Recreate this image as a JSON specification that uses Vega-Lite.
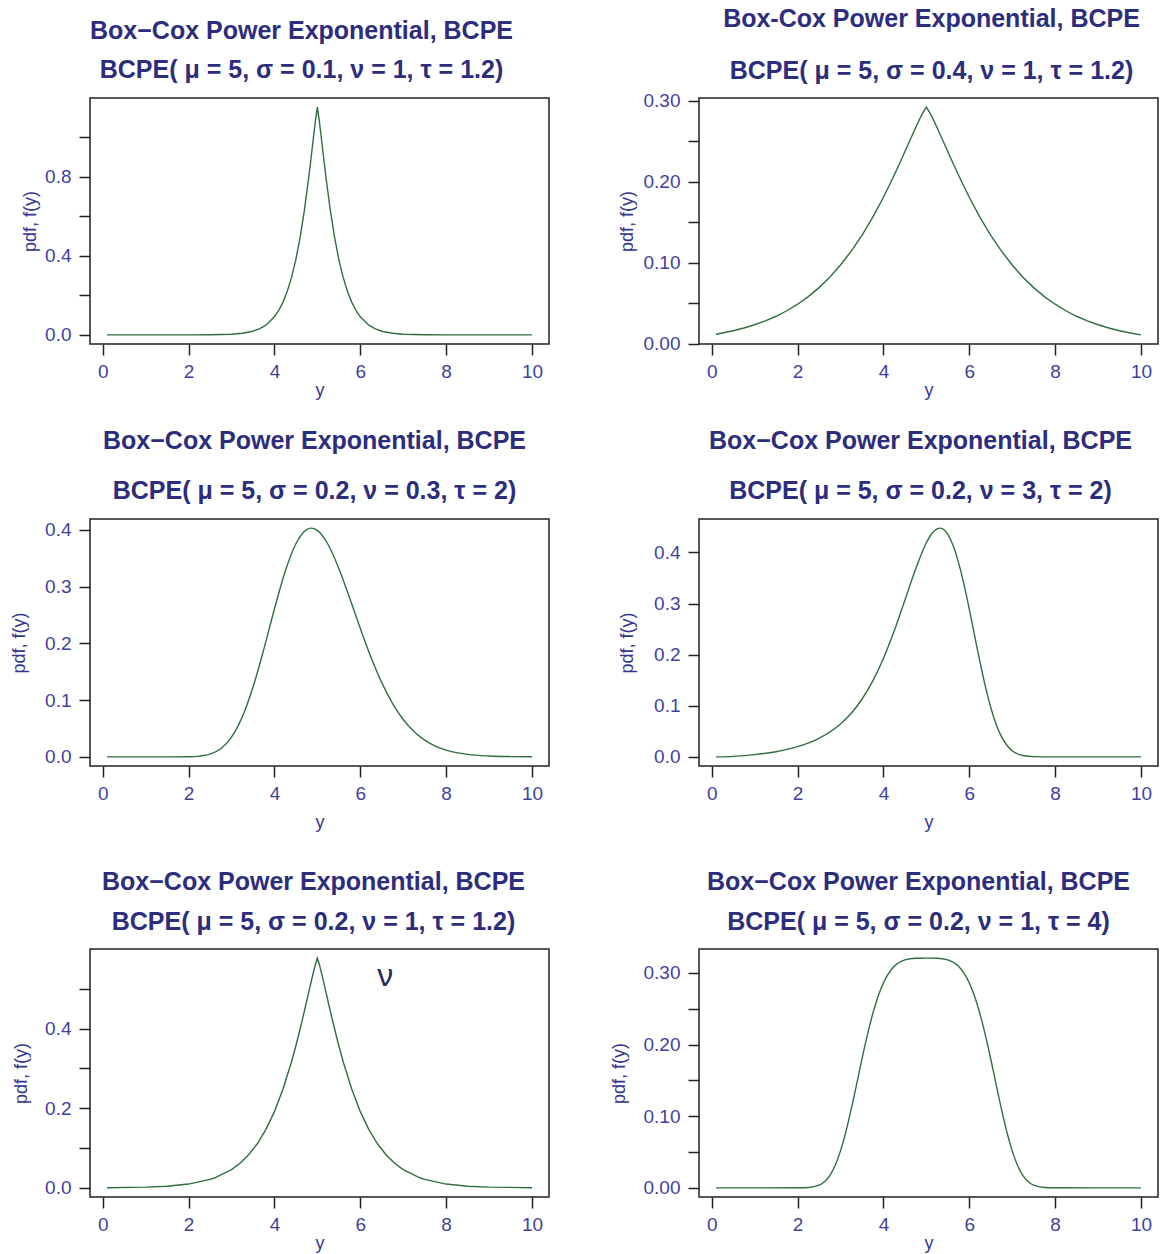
{
  "$schema": "https://vega.github.io/schema/vega-lite/v6.json",
  "background": "white",
  "autosize": {"type": "pad"},
  "padding": {"left": 9, "top": 6, "right": 0, "bottom": 0},
  "bounds": "flush",
  "spacing": 421,
  "datasets": {
    "p1": [{"x":0.1,"pdf":0},{"x":1,"pdf":0},{"x":2,"pdf":0.0001},{"x":2.5,"pdf":0.0006},{"x":3,"pdf":0.0034},{"x":3.25,"pdf":0.0081},{"x":3.5,"pdf":0.0187},{"x":3.65,"pdf":0.0305},{"x":3.8,"pdf":0.0492},{"x":4,"pdf":0.0915},{"x":4.1,"pdf":0.1236},{"x":4.2,"pdf":0.166},{"x":4.3,"pdf":0.2211},{"x":4.4,"pdf":0.2923},{"x":4.5,"pdf":0.3828},{"x":4.6,"pdf":0.496},{"x":4.7,"pdf":0.6347},{"x":4.8,"pdf":0.7989},{"x":4.85,"pdf":0.8894},{"x":4.9,"pdf":0.9831},{"x":4.95,"pdf":1.076},{"x":5,"pdf":1.1536},{"x":5.05,"pdf":1.076},{"x":5.1,"pdf":0.9831},{"x":5.15,"pdf":0.8894},{"x":5.2,"pdf":0.7989},{"x":5.3,"pdf":0.6347},{"x":5.4,"pdf":0.496},{"x":5.5,"pdf":0.3828},{"x":5.6,"pdf":0.2923},{"x":5.7,"pdf":0.2211},{"x":5.8,"pdf":0.166},{"x":5.9,"pdf":0.1236},{"x":6,"pdf":0.0915},{"x":6.2,"pdf":0.0492},{"x":6.35,"pdf":0.0305},{"x":6.5,"pdf":0.0187},{"x":6.75,"pdf":0.0081},{"x":7,"pdf":0.0034},{"x":7.5,"pdf":0.0006},{"x":8,"pdf":0.0001},{"x":9,"pdf":0},{"x":10,"pdf":0}],
    "p2": [{"x":0.1,"pdf":0.0115},{"x":0.25,"pdf":0.013},{"x":0.5,"pdf":0.0158},{"x":0.75,"pdf":0.0192},{"x":1,"pdf":0.0232},{"x":1.25,"pdf":0.028},{"x":1.5,"pdf":0.0337},{"x":1.75,"pdf":0.0405},{"x":2,"pdf":0.0486},{"x":2.25,"pdf":0.058},{"x":2.5,"pdf":0.0691},{"x":2.75,"pdf":0.082},{"x":3,"pdf":0.097},{"x":3.25,"pdf":0.1142},{"x":3.5,"pdf":0.1338},{"x":3.75,"pdf":0.156},{"x":4,"pdf":0.1808},{"x":4.2,"pdf":0.2024},{"x":4.4,"pdf":0.2253},{"x":4.6,"pdf":0.249},{"x":4.8,"pdf":0.2726},{"x":4.9,"pdf":0.2835},{"x":5,"pdf":0.2922},{"x":5.1,"pdf":0.2835},{"x":5.2,"pdf":0.2726},{"x":5.4,"pdf":0.249},{"x":5.6,"pdf":0.2253},{"x":5.8,"pdf":0.2024},{"x":6,"pdf":0.1808},{"x":6.25,"pdf":0.156},{"x":6.5,"pdf":0.1338},{"x":6.75,"pdf":0.1142},{"x":7,"pdf":0.097},{"x":7.25,"pdf":0.082},{"x":7.5,"pdf":0.0691},{"x":7.75,"pdf":0.058},{"x":8,"pdf":0.0486},{"x":8.25,"pdf":0.0405},{"x":8.5,"pdf":0.0337},{"x":8.75,"pdf":0.028},{"x":9,"pdf":0.0232},{"x":9.25,"pdf":0.0192},{"x":9.5,"pdf":0.0158},{"x":9.75,"pdf":0.013},{"x":10,"pdf":0.0107}],
    "p3": [{"x":0.1,"pdf":0},{"x":1,"pdf":0},{"x":1.5,"pdf":0},{"x":2,"pdf":0.0002},{"x":2.25,"pdf":0.0013},{"x":2.5,"pdf":0.0048},{"x":2.75,"pdf":0.0143},{"x":3,"pdf":0.0346},{"x":3.25,"pdf":0.0701},{"x":3.5,"pdf":0.1225},{"x":3.75,"pdf":0.1888},{"x":4,"pdf":0.2605},{"x":4.25,"pdf":0.3264},{"x":4.5,"pdf":0.3754},{"x":4.75,"pdf":0.4004},{"x":4.85,"pdf":0.4029},{"x":5,"pdf":0.3989},{"x":5.25,"pdf":0.3741},{"x":5.5,"pdf":0.332},{"x":5.75,"pdf":0.2804},{"x":6,"pdf":0.2264},{"x":6.25,"pdf":0.1754},{"x":6.5,"pdf":0.1308},{"x":6.75,"pdf":0.0943},{"x":7,"pdf":0.0658},{"x":7.25,"pdf":0.0446},{"x":7.5,"pdf":0.0294},{"x":7.75,"pdf":0.0189},{"x":8,"pdf":0.0119},{"x":8.5,"pdf":0.0044},{"x":9,"pdf":0.0015},{"x":9.5,"pdf":0.0005},{"x":10,"pdf":0.0001}],
    "p4": [{"x":0.1,"pdf":0.00004},{"x":0.5,"pdf":0.001},{"x":1,"pdf":0.0043},{"x":1.5,"pdf":0.0101},{"x":2,"pdf":0.0199},{"x":2.5,"pdf":0.0362},{"x":3,"pdf":0.0642},{"x":3.25,"pdf":0.0852},{"x":3.5,"pdf":0.1127},{"x":3.75,"pdf":0.1482},{"x":4,"pdf":0.1926},{"x":4.25,"pdf":0.2462},{"x":4.5,"pdf":0.3065},{"x":4.75,"pdf":0.3676},{"x":5,"pdf":0.419},{"x":5.1,"pdf":0.4336},{"x":5.25,"pdf":0.4462},{"x":5.3,"pdf":0.4475},{"x":5.4,"pdf":0.445},{"x":5.5,"pdf":0.4354},{"x":5.625,"pdf":0.4132},{"x":5.75,"pdf":0.3801},{"x":5.875,"pdf":0.3378},{"x":6,"pdf":0.289},{"x":6.125,"pdf":0.2369},{"x":6.25,"pdf":0.1854},{"x":6.375,"pdf":0.1378},{"x":6.5,"pdf":0.0968},{"x":6.625,"pdf":0.0639},{"x":6.75,"pdf":0.0395},{"x":6.875,"pdf":0.0227},{"x":7,"pdf":0.012},{"x":7.25,"pdf":0.0026},{"x":7.5,"pdf":0.0004},{"x":8,"pdf":0},{"x":9,"pdf":0},{"x":10,"pdf":0}],
    "p5": [{"x":0.1,"pdf":0.0003},{"x":1,"pdf":0.0017},{"x":1.5,"pdf":0.004},{"x":2,"pdf":0.0094},{"x":2.5,"pdf":0.021},{"x":2.6,"pdf":0.0246},{"x":3,"pdf":0.0458},{"x":3.2,"pdf":0.0618},{"x":3.4,"pdf":0.083},{"x":3.6,"pdf":0.1106},{"x":3.8,"pdf":0.1462},{"x":4,"pdf":0.1914},{"x":4.2,"pdf":0.248},{"x":4.4,"pdf":0.3174},{"x":4.5,"pdf":0.3569},{"x":4.6,"pdf":0.3995},{"x":4.7,"pdf":0.4447},{"x":4.8,"pdf":0.4916},{"x":4.9,"pdf":0.538},{"x":4.95,"pdf":0.5596},{"x":5,"pdf":0.5768},{"x":5.05,"pdf":0.5596},{"x":5.1,"pdf":0.538},{"x":5.2,"pdf":0.4916},{"x":5.3,"pdf":0.4447},{"x":5.4,"pdf":0.3995},{"x":5.5,"pdf":0.3569},{"x":5.6,"pdf":0.3174},{"x":5.8,"pdf":0.248},{"x":6,"pdf":0.1914},{"x":6.2,"pdf":0.1462},{"x":6.4,"pdf":0.1106},{"x":6.6,"pdf":0.083},{"x":6.8,"pdf":0.0618},{"x":7,"pdf":0.0458},{"x":7.4,"pdf":0.0246},{"x":7.5,"pdf":0.021},{"x":8,"pdf":0.0094},{"x":8.5,"pdf":0.004},{"x":9,"pdf":0.0017},{"x":10,"pdf":0.0003}],
    "p6": [{"x":0.1,"pdf":0},{"x":1,"pdf":0},{"x":2,"pdf":0.00003},{"x":2.25,"pdf":0.0005},{"x":2.5,"pdf":0.0037},{"x":2.625,"pdf":0.0085},{"x":2.75,"pdf":0.0172},{"x":2.875,"pdf":0.0312},{"x":3,"pdf":0.0516},{"x":3.125,"pdf":0.0782},{"x":3.25,"pdf":0.1098},{"x":3.375,"pdf":0.1446},{"x":3.5,"pdf":0.1799},{"x":3.625,"pdf":0.2132},{"x":3.75,"pdf":0.2427},{"x":3.875,"pdf":0.2671},{"x":4,"pdf":0.2861},{"x":4.25,"pdf":0.3093},{"x":4.5,"pdf":0.3184},{"x":4.75,"pdf":0.3206},{"x":5,"pdf":0.3207},{"x":5.25,"pdf":0.3206},{"x":5.5,"pdf":0.3184},{"x":5.75,"pdf":0.3093},{"x":6,"pdf":0.2861},{"x":6.125,"pdf":0.2671},{"x":6.25,"pdf":0.2427},{"x":6.375,"pdf":0.2132},{"x":6.5,"pdf":0.1799},{"x":6.625,"pdf":0.1446},{"x":6.75,"pdf":0.1098},{"x":6.875,"pdf":0.0782},{"x":7,"pdf":0.0516},{"x":7.125,"pdf":0.0312},{"x":7.25,"pdf":0.0172},{"x":7.375,"pdf":0.0085},{"x":7.5,"pdf":0.0037},{"x":7.75,"pdf":0.0005},{"x":8,"pdf":0.00003},{"x":9,"pdf":0},{"x":10,"pdf":0}],
    "nu": [{"x":6.58,"pdf":0.533,"label":"ν"}]
  },
  "vconcat": [
    {
      "bounds": "flush",
      "spacing": 150,
      "hconcat": [
        {
          "width": 459, "height": 246,
          "title": {"text": "Box−Cox Power Exponential, BCPE", "subtitle": "BCPE( μ = 5, σ = 0.1, ν = 1, τ = 1.2)", "dx": -18, "subtitlePadding": 14, "offset": 15},
          "data": {"name": "p1"},
          "mark": {"type": "line", "interpolate": "linear", "color": "#2f6f3f", "strokeWidth": 1.4},
          "encoding": {
            "x": {"field": "x", "type": "quantitative", "scale": {"domain": [-0.296, 10.396], "nice": false, "zero": false}, "axis": {"values": [0,2,4,6,8,10], "title": "y", "titleY": 46}},
            "y": {"field": "pdf", "type": "quantitative", "scale": {"domain": [-0.0461, 1.1997], "nice": false, "zero": false}, "axis": {"values": [0,0.2,0.4,0.6,0.8,1.0], "labelExpr": "round(datum.value*10)%4==0 ? format(datum.value,'.1f') : ''", "title": "pdf, f(y)", "titleX": -60}}
          }
        },
        {
          "width": 459, "height": 246,
          "title": {"text": "Box‑Cox Power Exponential, BCPE", "subtitle": "BCPE( μ = 5, σ = 0.4, ν = 1, τ = 1.2)", "dx": 3, "subtitlePadding": 27, "offset": 8},
          "data": {"name": "p2"},
          "mark": {"type": "line", "interpolate": "linear", "color": "#2f6f3f", "strokeWidth": 1.4},
          "encoding": {
            "x": {"field": "x", "type": "quantitative", "scale": {"domain": [-0.296, 10.396], "nice": false, "zero": false}, "axis": {"values": [0,2,4,6,8,10], "title": "y", "titleY": 46}},
            "y": {"field": "pdf", "type": "quantitative", "scale": {"domain": [-0.0006, 0.3035], "nice": false, "zero": false}, "axis": {"values": [0,0.05,0.1,0.15,0.2,0.25,0.3], "labelExpr": "round(datum.value*100)%10==0 ? format(datum.value,'.2f') : ''", "title": "pdf, f(y)", "titleX": -72}}
          }
        }
      ]
    },
    {
      "bounds": "flush",
      "spacing": 430,
      "vconcat": [
        {
          "bounds": "flush",
          "spacing": 150,
          "hconcat": [
            {
              "width": 459, "height": 247,
              "title": {"text": "Box−Cox Power Exponential, BCPE", "subtitle": "BCPE( μ = 5, σ = 0.2, ν = 0.3, τ = 2)", "dx": -5, "subtitlePadding": 25, "offset": 15},
              "data": {"name": "p3"},
              "mark": {"type": "line", "interpolate": "monotone", "color": "#2f6f3f", "strokeWidth": 1.4},
              "encoding": {
                "x": {"field": "x", "type": "quantitative", "scale": {"domain": [-0.296, 10.396], "nice": false, "zero": false}, "axis": {"values": [0,2,4,6,8,10], "title": "y", "titleY": 56}},
                "y": {"field": "pdf", "type": "quantitative", "scale": {"domain": [-0.0161, 0.419], "nice": false, "zero": false}, "axis": {"values": [0,0.1,0.2,0.3,0.4], "format": ".1f", "title": "pdf, f(y)", "titleX": -71}}
              }
            },
            {
              "width": 459, "height": 247,
              "title": {"text": "Box−Cox Power Exponential, BCPE", "subtitle": "BCPE( μ = 5, σ = 0.2, ν = 3, τ = 2)", "dx": -8, "subtitlePadding": 25, "offset": 15},
              "data": {"name": "p4"},
              "mark": {"type": "line", "interpolate": "monotone", "color": "#2f6f3f", "strokeWidth": 1.4},
              "encoding": {
                "x": {"field": "x", "type": "quantitative", "scale": {"domain": [-0.296, 10.396], "nice": false, "zero": false}, "axis": {"values": [0,2,4,6,8,10], "title": "y", "titleY": 56}},
                "y": {"field": "pdf", "type": "quantitative", "scale": {"domain": [-0.0179, 0.4654], "nice": false, "zero": false}, "axis": {"values": [0,0.1,0.2,0.3,0.4], "format": ".1f", "title": "pdf, f(y)", "titleX": -72}}
              }
            }
          ]
        },
        {
          "bounds": "flush",
          "spacing": 150,
          "hconcat": [
            {
              "width": 459, "height": 248,
              "title": {"text": "Box−Cox Power Exponential, BCPE", "subtitle": "BCPE( μ = 5, σ = 0.2, ν = 1, τ = 1.2)", "dx": -6, "subtitlePadding": 15, "offset": 14},
              "layer": [
                {
                  "data": {"name": "p5"},
                  "mark": {"type": "line", "interpolate": "linear", "color": "#2f6f3f", "strokeWidth": 1.4},
                  "encoding": {
                    "x": {"field": "x", "type": "quantitative", "scale": {"domain": [-0.296, 10.396], "nice": false, "zero": false}, "axis": {"values": [0,2,4,6,8,10], "title": "y", "titleY": 46}},
                    "y": {"field": "pdf", "type": "quantitative", "scale": {"domain": [-0.0231, 0.5999], "nice": false, "zero": false}, "axis": {"values": [0,0.1,0.2,0.3,0.4,0.5], "labelExpr": "round(datum.value*10)%2==0 ? format(datum.value,'.1f') : ''", "title": "pdf, f(y)", "titleX": -69}}
                  }
                },
                {
                  "data": {"name": "nu"},
                  "mark": {"type": "text", "font": "Liberation Sans", "fontSize": 32, "color": "#2b2b4f", "baseline": "middle", "align": "center"},
                  "encoding": {
                    "x": {"field": "x", "type": "quantitative"},
                    "y": {"field": "pdf", "type": "quantitative"},
                    "text": {"field": "label"}
                  }
                }
              ]
            },
            {
              "width": 459, "height": 248,
              "title": {"text": "Box−Cox Power Exponential, BCPE", "subtitle": "BCPE( μ = 5, σ = 0.2, ν = 1, τ = 4)", "dx": -10, "subtitlePadding": 15, "offset": 14},
              "data": {"name": "p6"},
              "mark": {"type": "line", "interpolate": "monotone", "color": "#2f6f3f", "strokeWidth": 1.4},
              "encoding": {
                "x": {"field": "x", "type": "quantitative", "scale": {"domain": [-0.296, 10.396], "nice": false, "zero": false}, "axis": {"values": [0,2,4,6,8,10], "title": "y", "titleY": 46}},
                "y": {"field": "pdf", "type": "quantitative", "scale": {"domain": [-0.0128, 0.3335], "nice": false, "zero": false}, "axis": {"values": [0,0.05,0.1,0.15,0.2,0.25,0.3], "labelExpr": "round(datum.value*100)%10==0 ? format(datum.value,'.2f') : ''", "title": "pdf, f(y)", "titleX": -80}}
              }
            }
          ]
        }
      ]
    }
  ],
  "config": {
    "font": "Liberation Sans",
    "view": {"stroke": "#222222", "strokeWidth": 1.5},
    "axis": {
      "domain": false, "grid": false, "ticks": true,
      "tickColor": "#222222", "tickWidth": 1.5, "tickSize": 11,
      "labelFont": "Liberation Sans", "labelFontSize": 19, "labelColor": "#3f3f9f", "labelPadding": 7,
      "labelOverlap": false, "labelFlush": false, "labelBound": false,
      "titleFont": "Liberation Sans", "titleFontSize": 18, "titleFontWeight": "normal", "titleColor": "#36368f",
      "titleBaseline": "middle"
    },
    "axisX": {"labelPadding": 7},
    "axisY": {"labelPadding": 8},
    "title": {
      "font": "Liberation Sans", "fontSize": 25, "fontWeight": "bold", "color": "#2d2d7d",
      "subtitleFont": "Liberation Sans", "subtitleFontSize": 25, "subtitleFontWeight": "bold", "subtitleColor": "#2d2d7d",
      "anchor": "middle", "frame": "group"
    }
  }
}
